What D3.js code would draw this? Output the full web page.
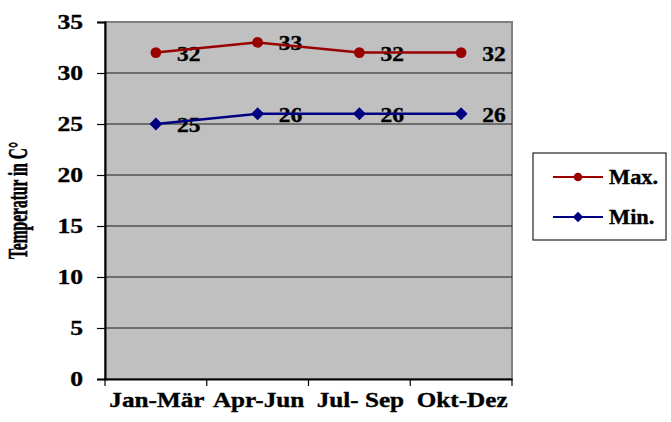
<!DOCTYPE html>
<html><head><meta charset="utf-8">
<script src="https://cdn.jsdelivr.net/npm/d3@7"></script>
<style>body{margin:0;background:#fff}svg{display:block}text{font-family:"Liberation Serif","Times New Roman",serif;font-weight:bold;fill:#000;stroke:#000;stroke-width:0.35px}</style>
</head><body>
<svg id="c" width="671" height="422"></svg>
<script>
const categories = ["Jan-Mär", "Apr-Jun", "Jul- Sep", "Okt-Dez"];
const maxValues = [32, 33, 32, 32];
const minValues = [25, 26, 26, 26];
const yTicks = [0, 5, 10, 15, 20, 25, 30, 35];
const seriesNames = ["Max.", "Min."];

const svg = d3.select("#c");
const L = 105, R = 512, T = 22, B = 379;
const x = d3.scaleBand().domain(categories).range([L, R]);
const y = d3.scaleLinear().domain([0, 35]).range([B, T]);

// helper: horizontally stretched text
function stext(g, px, py, txt, size, sx, anchor) {
  return g.append("text").attr("transform", `translate(${px},${py}) scale(${sx},1)`)
    .attr("font-size", size).attr("text-anchor", anchor || "start").text(txt);
}

svg.append("rect").attr("x", L).attr("y", T).attr("width", R - L).attr("height", B - T)
  .attr("fill", "#c0c0c0").attr("stroke", "#808080").attr("stroke-width", 2);

// gridlines
svg.append("g").selectAll("line").data(yTicks.filter(d => d > 0 && d < 35)).join("line")
  .attr("x1", L).attr("x2", R).attr("y1", d => y(d)).attr("y2", d => y(d))
  .attr("stroke", "#1a1a1a").attr("stroke-width", 1.2);

// y axis
const ya = svg.append("g").attr("transform", `translate(${L},0)`)
  .call(d3.axisLeft(y).tickValues(yTicks).tickSize(8).tickFormat(""));
ya.select(".domain").attr("stroke", "#000").attr("stroke-width", 2);
ya.selectAll(".tick line").attr("stroke", "#000").attr("stroke-width", 1.2);
const yl = svg.append("g");
yTicks.forEach(t => stext(yl, 83, y(t) + 7, t, 21, 1.22, "end"));

// x axis
const xa = svg.append("g").attr("transform", `translate(0,${B})`)
  .call(d3.axisBottom(x).tickSize(0).tickFormat(""));
xa.select(".domain").attr("stroke", "#000").attr("stroke-width", 2);
const bounds = [L].concat(categories.map(c => x(c) + x.bandwidth()));
svg.append("g").selectAll("line").data(bounds).join("line")
  .attr("x1", d => d).attr("x2", d => d).attr("y1", B).attr("y2", B + 7)
  .attr("stroke", "#000").attr("stroke-width", 1.2);
const xl = svg.append("g");
categories.forEach(c => stext(xl, x(c) + x.bandwidth() / 2 + 1, 407, c, 21, 1.2, "middle"));

// y title
svg.append("text").attr("transform", `translate(27,${(T + B) / 2}) scale(1.8,1) rotate(-90)`)
  .attr("text-anchor", "middle").attr("font-size", 15.5).text("Temperatur in C°");

const diamond = "M0,-6.5L6.5,0L0,6.5L-6.5,0Z";
const series = [
  {name: seriesNames[0], values: maxValues, color: "#990000", marker: d3.symbol().type(d3.symbolCircle).size(90)()},
  {name: seriesNames[1], values: minValues, color: "#000080", marker: diamond}
];
const cx = c => x(c) + x.bandwidth() / 2;
const line = d3.line().x((d, i) => cx(categories[i])).y(d => y(d));
const lbl = svg.append("g");
series.forEach(s => {
  svg.append("path").datum(s.values).attr("d", line).attr("fill", "none")
    .attr("stroke", s.color).attr("stroke-width", 2.5);
  svg.append("g").selectAll("path").data(s.values).join("path")
    .attr("transform", (d, i) => `translate(${cx(categories[i])},${y(d)})`)
    .attr("d", s.marker).attr("fill", s.color);
});
series.forEach(s => {
  s.values.forEach((v, i) => stext(lbl, cx(categories[i]) + 21, y(v) + 8, v, 21, 1.12, "start"));
});

// legend
const lg = svg.append("g");
lg.append("rect").attr("x", 533).attr("y", 153).attr("width", 133).attr("height", 87)
  .attr("fill", "#fff").attr("stroke", "#222").attr("stroke-width", 1.2);
series.forEach((s, i) => {
  const ly = 177 + i * 40;
  lg.append("line").attr("x1", 553).attr("x2", 603).attr("y1", ly).attr("y2", ly)
    .attr("stroke", s.color).attr("stroke-width", 2);
  lg.append("path").attr("transform", `translate(578,${ly}) scale(0.8)`)
    .attr("d", s.marker).attr("fill", s.color);
  stext(lg, 609, ly + 7, s.name, 20, 1.12, "start");
});
</script>
</body></html>
